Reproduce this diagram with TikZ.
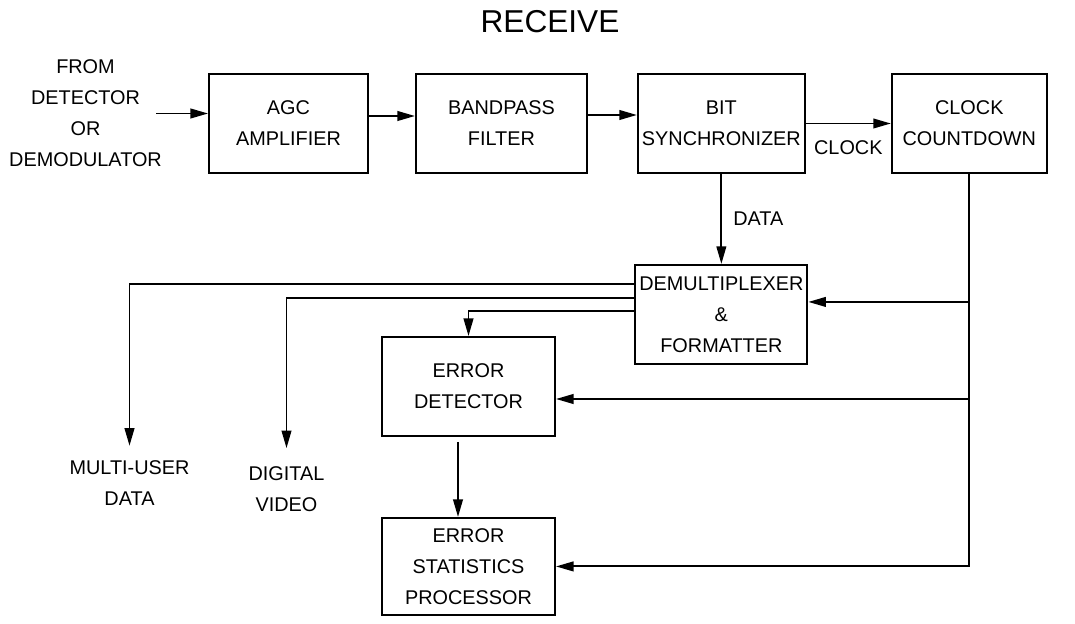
\documentclass[tikz,border=0pt]{standalone}
\usepackage{fontspec}
\setmainfont{Liberation Sans}
\usetikzlibrary{positioning,arrows.meta}

\newcommand{\blockfont}{\fontsize{11.3}{17.6}\selectfont}

\begin{document}
\begin{tikzpicture}[
    node distance=0.95cm and 0.95cm,
    >={Triangle[length=10pt,width=5.5pt]},
    block/.style={draw, line width=1.1pt, align=center, minimum height=1.98cm, inner sep=0pt, font=\blockfont},
    lbl/.style={align=center, inner sep=0pt, font=\blockfont},
    flow/.style={->, line width=1.1pt}
]
\useasboundingbox (0,0) rectangle (21.5,-12.48);

\node[font=\fontsize{18}{22}\selectfont] (title) at (11.0,-0.43) {RECEIVE};

% Receive chain
\node[block, minimum width=3.18cm] (agc) at (5.77,-2.47) {AGC\\AMPLIFIER};
\node[block, minimum width=3.42cm, right=0.92cm of agc] (bandpass) {BANDPASS\\FILTER};
\node[block, minimum width=3.34cm, right=0.98cm of bandpass] (bitsync) {BIT\\SYNCHRONIZER};
\node[block, minimum width=3.10cm, right=1.70cm of bitsync] (clockcd) {CLOCK\\COUNTDOWN};

% Lower blocks
\node[block, minimum width=3.44cm, below=1.8cm of bitsync] (demux) {DEMULTIPLEXER\\\&\\FORMATTER};
\node[block, minimum width=3.46cm] (errdet) at (9.37,-7.73) {ERROR\\DETECTOR};
\node[block, minimum width=3.46cm, minimum height=1.94cm, below=1.6cm of errdet] (errstat) {ERROR\\STATISTICS\\PROCESSOR};

% Source and outputs (no box)
\node[lbl] (source) at (1.71,-2.27) {FROM\\DETECTOR\\OR\\DEMODULATOR};
\node[lbl] (mudata) at (2.59,-9.67) {MULTI-USER\\DATA};
\node[lbl] (video) at (5.73,-9.78) {DIGITAL\\VIDEO};

% Signal path
\draw[flow] ([xshift=-0.12cm]source.east) -- (source.east -| agc.west);
\draw[flow] ([yshift=0.15cm]agc.east) -- ([yshift=0.15cm]bandpass.west);
\draw[flow] ([yshift=0.17cm]bandpass.east) -- ([yshift=0.17cm]bitsync.west);
\draw[flow] (bitsync) -- (clockcd) node[lbl, midway, below=0.33cm] (clocklbl) {CLOCK};
\draw[flow] (bitsync.south) -- (bitsync.south |- demux.north) node[lbl, midway, right=0.22cm] (datalbl) {DATA};

% Clock distribution
\draw[flow] (clockcd.south) |- (errstat.east);
\draw[flow] ([yshift=0.25cm]demux.east -| clockcd.south) -- ([yshift=0.25cm]demux.east);
\draw[flow] ([yshift=-0.25cm]errdet.east -| clockcd.south) -- ([yshift=-0.25cm]errdet.east);

% Demultiplexer outputs
\draw[flow] ([yshift=0.61cm]demux.west) -| ([yshift=0.3cm]mudata.north);
\draw[flow] ([yshift=0.33cm]demux.west) -| ([yshift=0.36cm]video.north);
\draw[flow] ([yshift=0.06cm]demux.west) -| (errdet.north);
\draw[flow] ([xshift=-0.21cm,yshift=-0.1cm]errdet.south) -- ([xshift=-0.21cm]errstat.north);

\end{tikzpicture}
\end{document}
